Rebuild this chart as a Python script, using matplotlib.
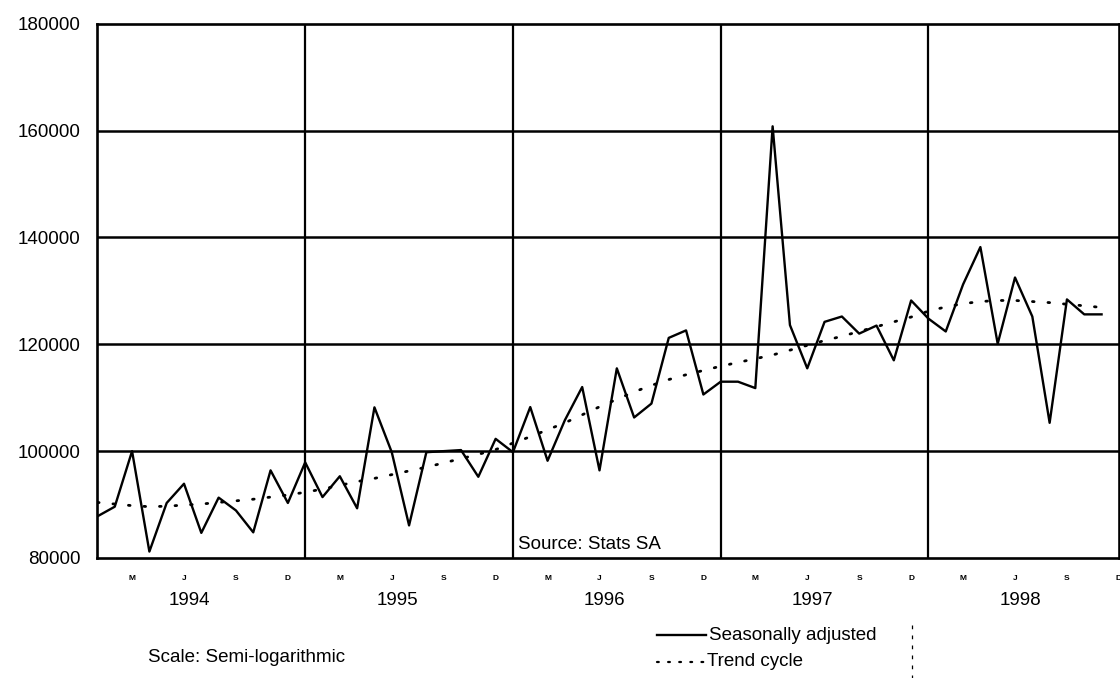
import matplotlib
matplotlib.use('Agg')
import matplotlib.pyplot as plt
from matplotlib.lines import Line2D
import numpy as np

plt.rcParams['font.family'] = ['Liberation Sans', 'DejaVu Sans']

# monthly values, Jan 1994 - Nov 1998
sa_1994 = [87800, 89600, 100000, 81200, 90300, 93900, 84700, 91300, 88900, 84800, 96400, 90300]
sa_1995 = [97900, 91400, 95300, 89300, 108200, 99800, 86100, 99800, 100000, 100200, 95200, 102300]
sa_1996 = [99800, 108250, 98200, 105800, 112000, 96400, 115500, 106300, 108900, 121200, 122600, 110600]
sa_1997 = [113000, 113000, 111800, 160800, 123600, 115500, 124200, 125200, 122000, 123500, 117000, 128200]
sa_1998 = [124800, 122400, 131200, 138200, 120100, 132500, 125200, 105300, 128400, 125600, 125600]

tr_1994 = [90400, 90100, 89800, 89600, 89700, 89900, 90100, 90400, 90700, 91000, 91400, 91800]
tr_1995 = [92300, 92900, 93600, 94300, 94900, 95600, 96300, 97000, 97800, 98600, 99400, 100300]
tr_1996 = [101500, 102700, 104000, 105300, 106800, 108300, 109700, 111100, 112300, 113400, 114300, 115100]
tr_1997 = [115900, 116600, 117300, 118000, 118900, 119800, 120700, 121500, 122400, 123300, 124200, 125100]
tr_1998 = [126200, 127000, 127600, 128000, 128200, 128200, 128000, 127800, 127500, 127200, 126900]

years = ['1994', '1995', '1996', '1997', '1998']
month_letters = ['M', 'J', 'S', 'D']

seasonal = np.array(sa_1994 + sa_1995 + sa_1996 + sa_1997 + sa_1998)
trend = np.array(tr_1994 + tr_1995 + tr_1996 + tr_1997 + tr_1998)
t = np.arange(len(seasonal))

fig = plt.figure(figsize=(11.2, 6.78), dpi=100)
ax = fig.add_axes([0.087, 0.177, 0.912, 0.788])

ax.plot(t, seasonal, color='black', lw=1.7)
ax.plot(t, trend, color='black', lw=2.0, linestyle=(0, (0.6, 5)), dash_capstyle='round')

for yv in [100000, 120000, 140000, 160000]:
	ax.axhline(yv, color='black', lw=1.8)
for k in range(1, 5):
	ax.axvline(12*k, color='black', lw=1.6)

ax.set_xlim(0, 59)
ax.set_ylim(80000, 180000)

for s in ax.spines.values():
	s.set_linewidth(1.9)
	s.set_color('black')

ax.set_yticks(range(80000, 180001, 20000))
ax.set_yticklabels([str(v) for v in range(80000, 180001, 20000)], fontsize=13.5)

xt = [12*y + m for y in range(5) for m in (2, 5, 8, 11)]
ax.set_xticks(xt)
ax.set_xticklabels(month_letters*5, fontsize=6, fontweight='bold')
ax.tick_params(axis='both', length=0)
ax.tick_params(axis='x', pad=12)
ax.tick_params(axis='y', pad=12)

trans = ax.get_xaxis_transform()
for i, yr in enumerate(years):
	ax.text(12*i + 5.3, -0.08, yr, transform=trans, ha='center', va='center',
		fontsize=13.5, clip_on=False)

ax.text(24.3, 82600, 'Source: Stats SA', fontsize=13.5, ha='left', va='center')

fig.text(148/1120, 1 - 657/678, 'Scale: Semi-logarithmic', fontsize=13.5, ha='left', va='center')

# legend drawn by hand
fig.add_artist(Line2D([657/1120, 706/1120], [1 - 635/678]*2, color='black', lw=1.7))
fig.text(709/1120, 1 - 635/678, 'Seasonally adjusted', fontsize=13.5, ha='left', va='center')
fig.add_artist(Line2D([657/1120, 704/1120], [1 - 662/678]*2, color='black', lw=1.6,
	linestyle=(0, (0.8, 4.2)), dash_capstyle='round'))
fig.text(707/1120, 1 - 662/678, 'Trend cycle', fontsize=13.5, ha='left', va='center')
fig.add_artist(Line2D([912/1120]*2, [1 - 625/678, 0], color='black', lw=0.9,
	linestyle=(0, (3, 5))))

fig.savefig('out.png', dpi=100)
